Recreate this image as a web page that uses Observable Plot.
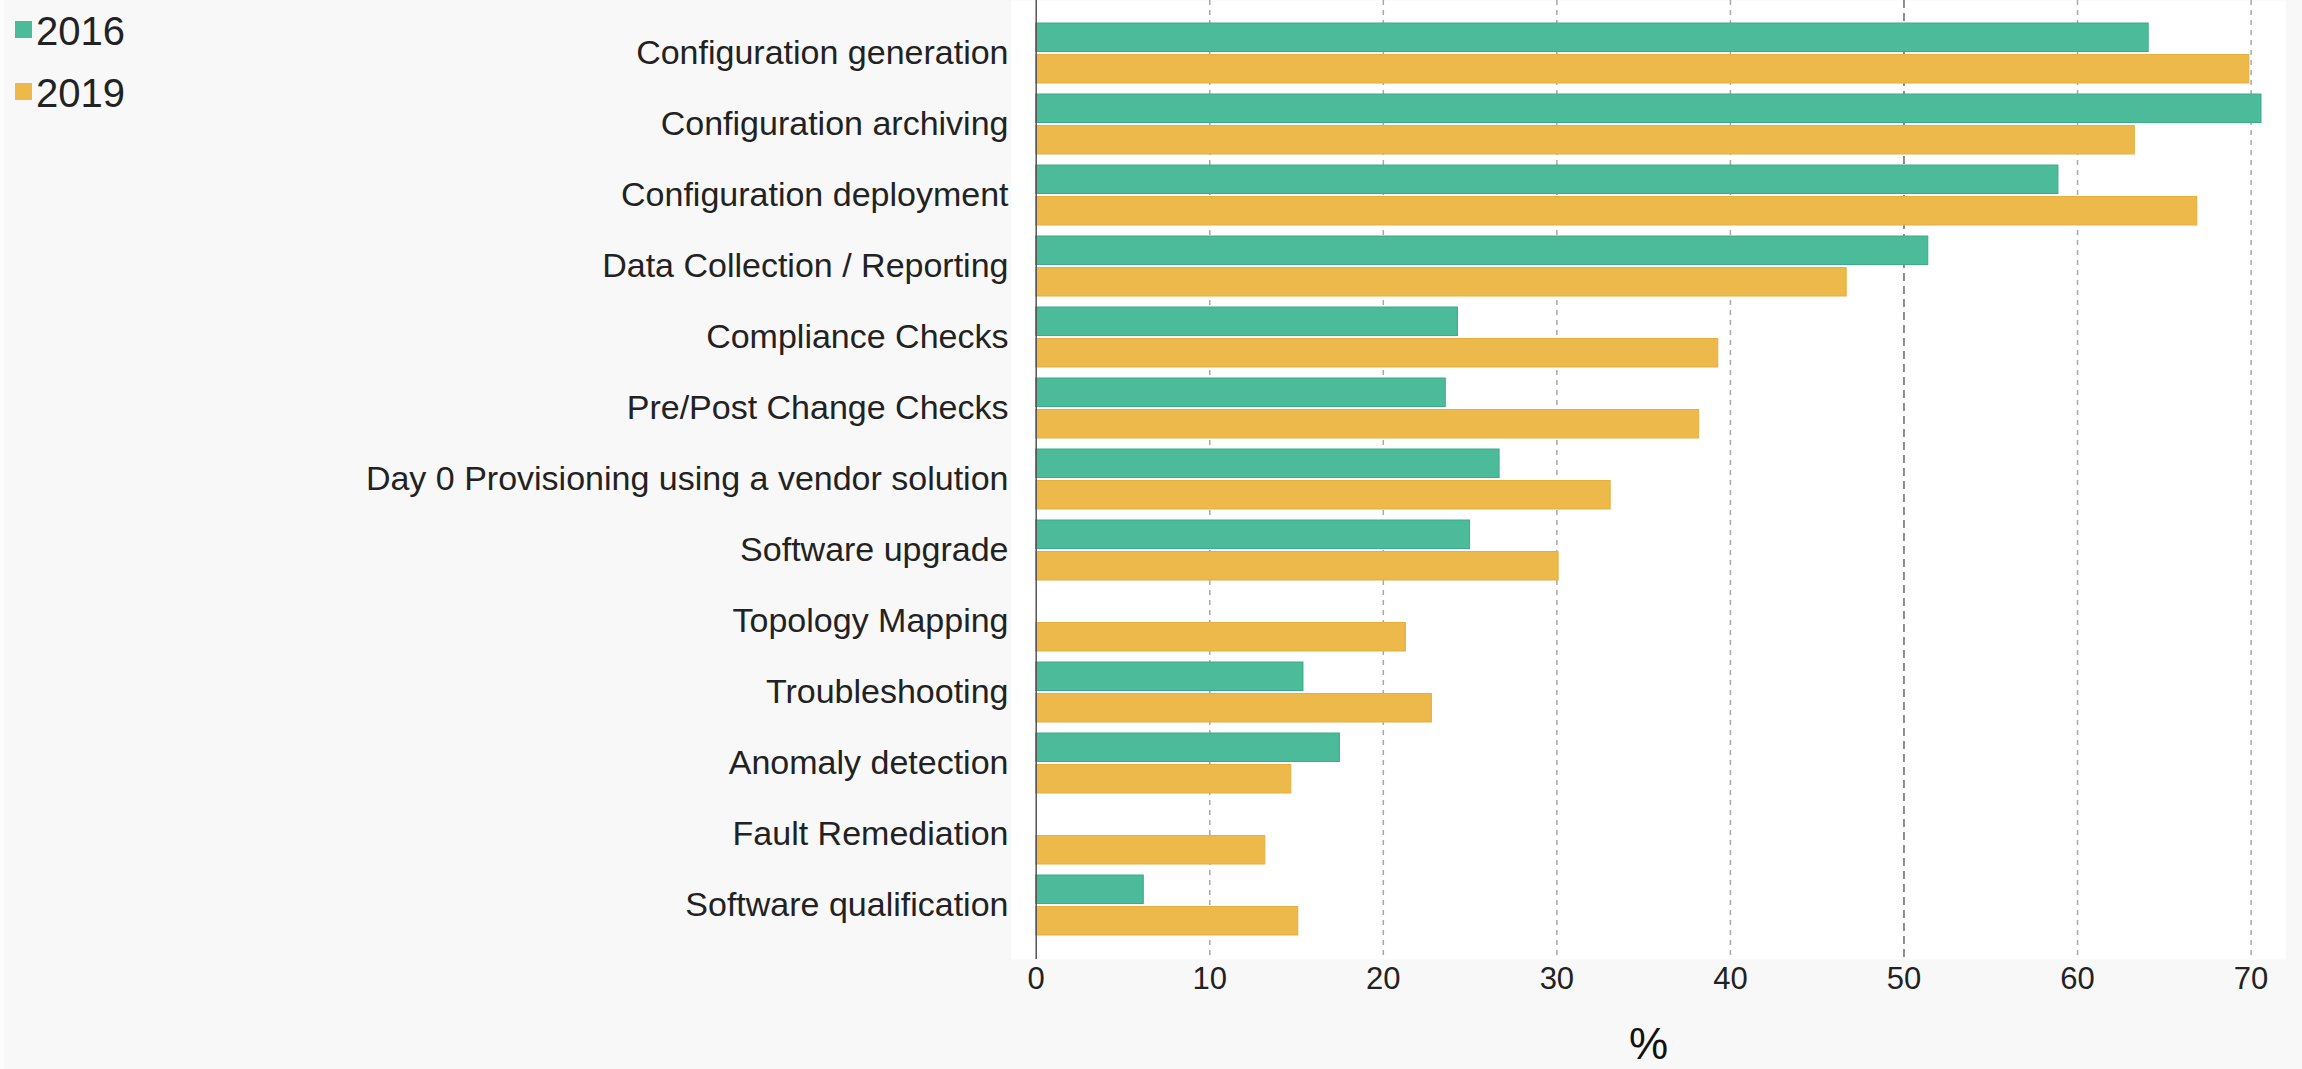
<!DOCTYPE html>
<html>
<head>
<meta charset="utf-8">
<script src="https://cdn.jsdelivr.net/npm/d3@7"></script>
<script src="https://cdn.jsdelivr.net/npm/@observablehq/plot@0.6"></script>
<style>
  html, body { margin: 0; padding: 0; background: #f8f8f8; }
  #wrap { position: relative; width: 2302px; height: 1069px; overflow: hidden; }
  #edge { position: absolute; left: 0; top: 0; width: 4px; height: 1069px; background: #fdfdfd; }
  .legend { position: absolute; left: 0; top: 0; font-family: "Liberation Sans", Arial, Helvetica, sans-serif; color: #222; }
  .legend .item { position: absolute; left: 15px; white-space: nowrap; font-size: 40px; line-height: 1; }
  .legend .sw { position: absolute; left: 0; width: 17px; height: 17px; }
  .legend .lab { position: absolute; left: 21px; }
</style>
</head>
<body>
<div id="wrap">
  <div id="chart"></div>
  <div id="edge"></div>
  <div class="legend" id="legend"></div>
</div>
<script>
// ---- data ----
const categories = [
  "Configuration generation",
  "Configuration archiving",
  "Configuration deployment",
  "Data Collection / Reporting",
  "Compliance Checks",
  "Pre/Post Change Checks",
  "Day 0 Provisioning using a vendor solution",
  "Software upgrade",
  "Topology Mapping",
  "Troubleshooting",
  "Anomaly detection",
  "Fault Remediation",
  "Software qualification"
];
const values2016 = [64.1, 70.6, 58.9, 51.4, 24.3, 23.6, 26.7, 25.0, null, 15.4, 17.5, null, 6.2];
const values2019 = [69.9, 63.3, 66.9, 46.7, 39.3, 38.2, 33.1, 30.1, 21.3, 22.8, 14.7, 13.2, 15.1];
const years = ["2016", "2019"];
const fillColors = ["#4bbb9a", "#ecb94a"];
const strokeColors = ["#3aad88", "#e5af3c"];
const xTicks = [0, 10, 20, 30, 40, 50, 60, 70];
const emphasisTicks = [50];
const axisLabel = "%";

// ---- build tables ----
const rows2016 = categories.map((c, i) => ({category: c, value: values2016[i]})).filter(d => d.value != null);
const rows2019 = categories.map((c, i) => ({category: c, value: values2019[i]})).filter(d => d.value != null);
const xMax = d3.max([...values2016, ...values2019]);

const W = 2302, H = 1069;
const FONT = '"Liberation Sans", Arial, Helvetica, sans-serif';

const chart = Plot.plot({
  width: W,
  height: H,
  marginLeft: 1011,
  marginRight: 17,
  marginTop: 0,
  marginBottom: 110,
  style: {background: "#f8f8f8", fontFamily: FONT, color: "#222", overflow: "visible"},
  x: {domain: [0, xMax], insetLeft: 24.7, insetRight: 24},
  y: {domain: categories, padding: 0.158, insetTop: 9.75, insetBottom: 11.75},
  marks: [
    Plot.frame({fill: "white", stroke: null}),
    Plot.ruleX(xTicks.filter(d => d > 0 && !emphasisTicks.includes(d)), {stroke: "#a8a8a8", strokeWidth: 1.5, strokeDasharray: "5,5"}),
    Plot.ruleX(emphasisTicks, {stroke: "#6a6a6a", strokeWidth: 1.5, strokeDasharray: "8,5"}),
    Plot.barX(rows2016, {y: "category", x: "value", fill: fillColors[0], stroke: strokeColors[0], strokeWidth: 1, insetBottom: 31.5}),
    Plot.barX(rows2019, {y: "category", x: "value", fill: fillColors[1], stroke: strokeColors[1], strokeWidth: 1, insetTop: 31.5}),
    Plot.ruleX([0], {stroke: "#555", strokeWidth: 1.5}),
    Plot.axisX({ticks: xTicks, tickSize: 0, tickPadding: 7, fontSize: 31, fill: "#222", label: null}),
    Plot.axisY({tickSize: 0, tickPadding: 3, fontSize: 34, fill: "#222", label: null}),
    Plot.text([axisLabel], {text: d => d, frameAnchor: "bottom", lineAnchor: "bottom", dy: 99, fontSize: 44, fill: "#111"})
  ]
});
document.getElementById("chart").appendChild(chart);

// ---- legend ----
const legend = document.getElementById("legend");
const legendTops = [21, 83];
years.forEach((y, i) => {
  const item = document.createElement("div");
  item.className = "item";
  item.style.top = legendTops[i] + "px";
  const sw = document.createElement("div");
  sw.className = "sw";
  sw.style.background = fillColors[i];
  sw.style.top = "0px";
  const lab = document.createElement("div");
  lab.className = "lab";
  lab.textContent = y;
  lab.style.top = "-10px";
  item.appendChild(sw);
  item.appendChild(lab);
  legend.appendChild(item);
});
</script>
</body>
</html>
